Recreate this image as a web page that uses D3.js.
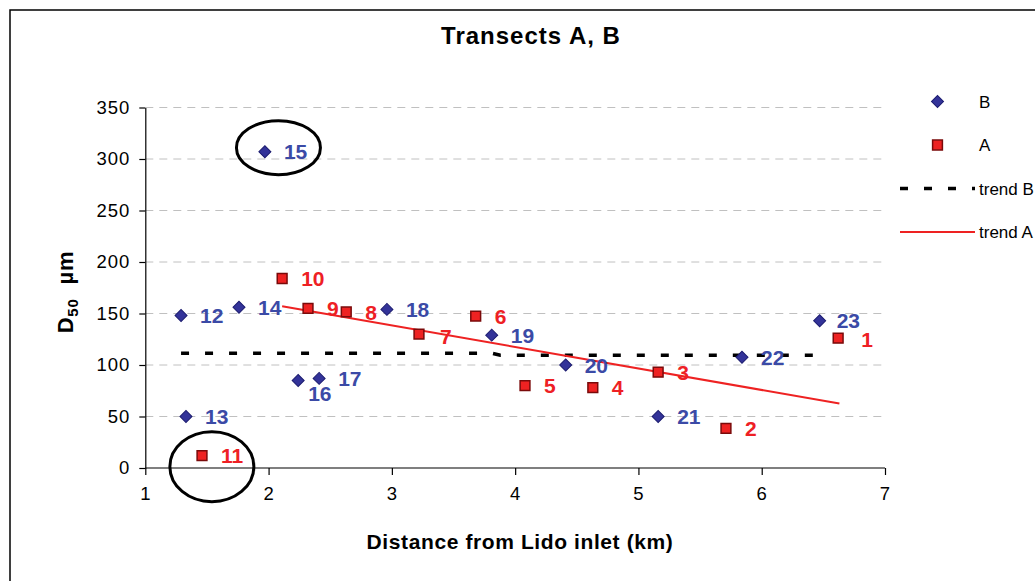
<!DOCTYPE html>
<html><head><meta charset="utf-8">
<script src="https://cdn.jsdelivr.net/npm/d3@7"></script>
<style>
body{margin:0;background:#fff;}
svg{display:block;font-family:"Liberation Sans",Arial,sans-serif;}
</style>
</head><body>
<svg id="chart" width="1035" height="581"></svg>
<script>
// ---- data ----
const xTicks = [1, 2, 3, 4, 5, 6, 7];
const yTicks = [0, 50, 100, 150, 200, 250, 300, 350];
const bLabels = ["12","13","14","15","16","17","18","19","20","21","22","23"];
const bX = [1.29, 1.33, 1.76, 1.97, 2.24, 2.41, 2.96, 3.81, 4.41, 5.16, 5.84, 6.47];
const bY = [148, 50, 156, 307, 85, 87, 154, 129, 100, 50, 107.5, 143];
const aLabels = ["1","2","3","4","5","6","7","8","9","10","11"];
const aX = [6.62, 5.71, 5.16, 4.63, 4.08, 3.68, 3.22, 2.63, 2.32, 2.11, 1.46];
const aY = [126, 38.5, 93, 78, 80, 147.5, 130, 151.5, 155, 184, 12];
const trendBX = [1.29, 3.81, 3.88, 6.42];
const trendBY = [111.4, 111.4, 109.4, 109.4];
const trendAX = [2.11, 6.63];
const trendAY = [157, 62.6];
const outlierX = [2.08, 1.54];
const outlierY = [311, 1.3];
const legendNames = ["B", "A", "trend B", "trend A"];

// ---- layout / style ----
const svg = d3.select("#chart");
const x = d3.scaleLinear().domain([1, 7]).range([145.3, 885]);
const y = d3.scaleLinear().domain([0, 350]).range([468, 107.5]);
const BLUE = "#333399", BLUE_TXT = "#3B4AA6", RED = "#EE2222", RED_TXT = "#EE2024";

// outer frame
svg.append("rect").attr("x", 10).attr("y", 10).attr("width", 1100).attr("height", 700)
  .attr("fill", "none").attr("stroke", "#000").attr("stroke-width", 1.5);

// title
svg.append("text").attr("x", 531).attr("y", 43.5).attr("text-anchor", "middle")
  .attr("font-size", 24).attr("font-weight", "bold").attr("letter-spacing", 1)
  .text("Transects A, B");

// grid
svg.append("g").selectAll("line").data(yTicks.filter(d => d > 0)).join("line")
  .attr("x1", x(1)).attr("x2", x(7)).attr("y1", d => y(d)).attr("y2", d => y(d))
  .attr("stroke", "#c0c0c0").attr("stroke-width", 1).attr("stroke-dasharray", "8,6");

// axes
const yAxis = svg.append("g").attr("transform", `translate(${x(1)},0)`)
  .call(d3.axisLeft(y).tickValues(yTicks).tickFormat(d3.format("d")).tickSize(6).tickPadding(9).tickSizeOuter(0));
const xAxis = svg.append("g").attr("transform", `translate(0,${y(0)})`)
  .call(d3.axisBottom(x).tickValues(xTicks).tickFormat(d3.format("d")).tickSize(7).tickPadding(12).tickSizeOuter(0));
[yAxis, xAxis].forEach(g => {
  g.select(".domain").attr("stroke", "#000").attr("stroke-width", 1.2);
  g.selectAll(".tick line").attr("stroke", "#000").attr("stroke-width", 1.2);
  g.selectAll(".tick text").attr("font-size", 18.5).attr("fill", "#000")
    .attr("font-family", "'Liberation Sans',Arial,sans-serif").attr("letter-spacing", 1);
});
xAxis.select(".domain").attr("d", `M${x(1)},0H${x(7)}`);

// axis titles
svg.append("text").attr("x", 520).attr("y", 549).attr("text-anchor", "middle")
  .attr("font-size", 21).attr("font-weight", "bold").attr("letter-spacing", 0.6)
  .text("Distance from Lido inlet (km)");
const yt = svg.append("text").attr("transform", "translate(73,292) rotate(-90)")
  .attr("text-anchor", "middle").attr("font-size", 22).attr("font-weight", "bold")
  .attr("letter-spacing", 0.8);
yt.append("tspan").text("D");
yt.append("tspan").attr("font-size", 15).attr("dy", 5).text("50");
yt.append("tspan").attr("dy", -5).text("\u00A0\u00A0µm");

// trend B (dashed black)
const line = d3.line().x(d => x(d[0])).y(d => y(d[1]));
svg.append("path").datum(trendBX.map((v, i) => [v, trendBY[i]]))
  .attr("d", line).attr("fill", "none").attr("stroke", "#000")
  .attr("stroke-width", 3.5).attr("stroke-dasharray", "8,16");
// trend A (red)
svg.append("path").datum(trendAX.map((v, i) => [v, trendAY[i]]))
  .attr("d", line).attr("fill", "none").attr("stroke", RED).attr("stroke-width", 2);

// points B
const diamond = d3.symbol().type(d3.symbolSquare).size(72);
const bData = bX.map((v, i) => ({ x: v, y: bY[i], label: bLabels[i] }));
svg.append("g").selectAll("path").data(bData).join("path")
  .attr("d", diamond)
  .attr("transform", d => `translate(${x(d.x)},${y(d.y)}) rotate(45)`)
  .attr("fill", BLUE).attr("stroke", "#1c1c70").attr("stroke-width", 1);

// points A
const square = d3.symbol().type(d3.symbolSquare).size(96);
const aData = aX.map((v, i) => ({ x: v, y: aY[i], label: aLabels[i] }));
svg.append("g").selectAll("path").data(aData).join("path")
  .attr("d", square)
  .attr("transform", d => `translate(${x(d.x)},${y(d.y)})`)
  .attr("fill", RED).attr("stroke", "#7a0a0a").attr("stroke-width", 1.5);

// labels (offsets are layout only)
const labelOffset = { "16": [10, 13], "7": [21, 2], "23": [17, 0], "1": [23, 1] };
function addLabels(data, color) {
  svg.append("g").selectAll("text").data(data).join("text")
    .attr("x", d => x(d.x) + (labelOffset[d.label] ? labelOffset[d.label][0] : 19))
    .attr("y", d => y(d.y) + (labelOffset[d.label] ? labelOffset[d.label][1] : 0))
    .attr("dy", "0.36em").attr("font-size", 21).attr("font-weight", "bold")
    .attr("fill", color).text(d => d.label);
}
addLabels(bData, BLUE_TXT);
addLabels(aData, RED_TXT);

// outlier ellipses
svg.append("g").selectAll("ellipse").data(outlierX.map((v, i) => [v, outlierY[i]])).join("ellipse")
  .attr("cx", d => x(d[0])).attr("cy", d => y(d[1]))
  .attr("rx", 42).attr("ry", (d, i) => i === 0 ? 27 : 35)
  .attr("fill", "none").attr("stroke", "#000").attr("stroke-width", 3);

// legend
const lg = svg.append("g");
const lx = 900, lw = 75, ly0 = 101.5, lstep = 43.5;
legendNames.forEach((name, i) => {
  const cy = ly0 + i * lstep;
  if (i === 0) lg.append("path").attr("d", diamond).attr("transform", `translate(${lx + lw / 2},${cy}) rotate(45)`)
    .attr("fill", BLUE).attr("stroke", "#1c1c70").attr("stroke-width", 1);
  if (i === 1) lg.append("path").attr("d", square).attr("transform", `translate(${lx + lw / 2},${cy})`)
    .attr("fill", RED).attr("stroke", "#7a0a0a").attr("stroke-width", 1.5);
  if (i === 2) lg.append("line").attr("x1", lx).attr("x2", lx + lw).attr("y1", cy).attr("y2", cy)
    .attr("stroke", "#000").attr("stroke-width", 3.5).attr("stroke-dasharray", "8,16");
  if (i === 3) lg.append("line").attr("x1", lx).attr("x2", lx + lw).attr("y1", cy).attr("y2", cy)
    .attr("stroke", RED).attr("stroke-width", 2);
  lg.append("text").attr("x", lx + lw + 4).attr("y", cy).attr("dy", "0.36em")
    .attr("font-size", 17).text(name);
});
</script>
</body></html>
